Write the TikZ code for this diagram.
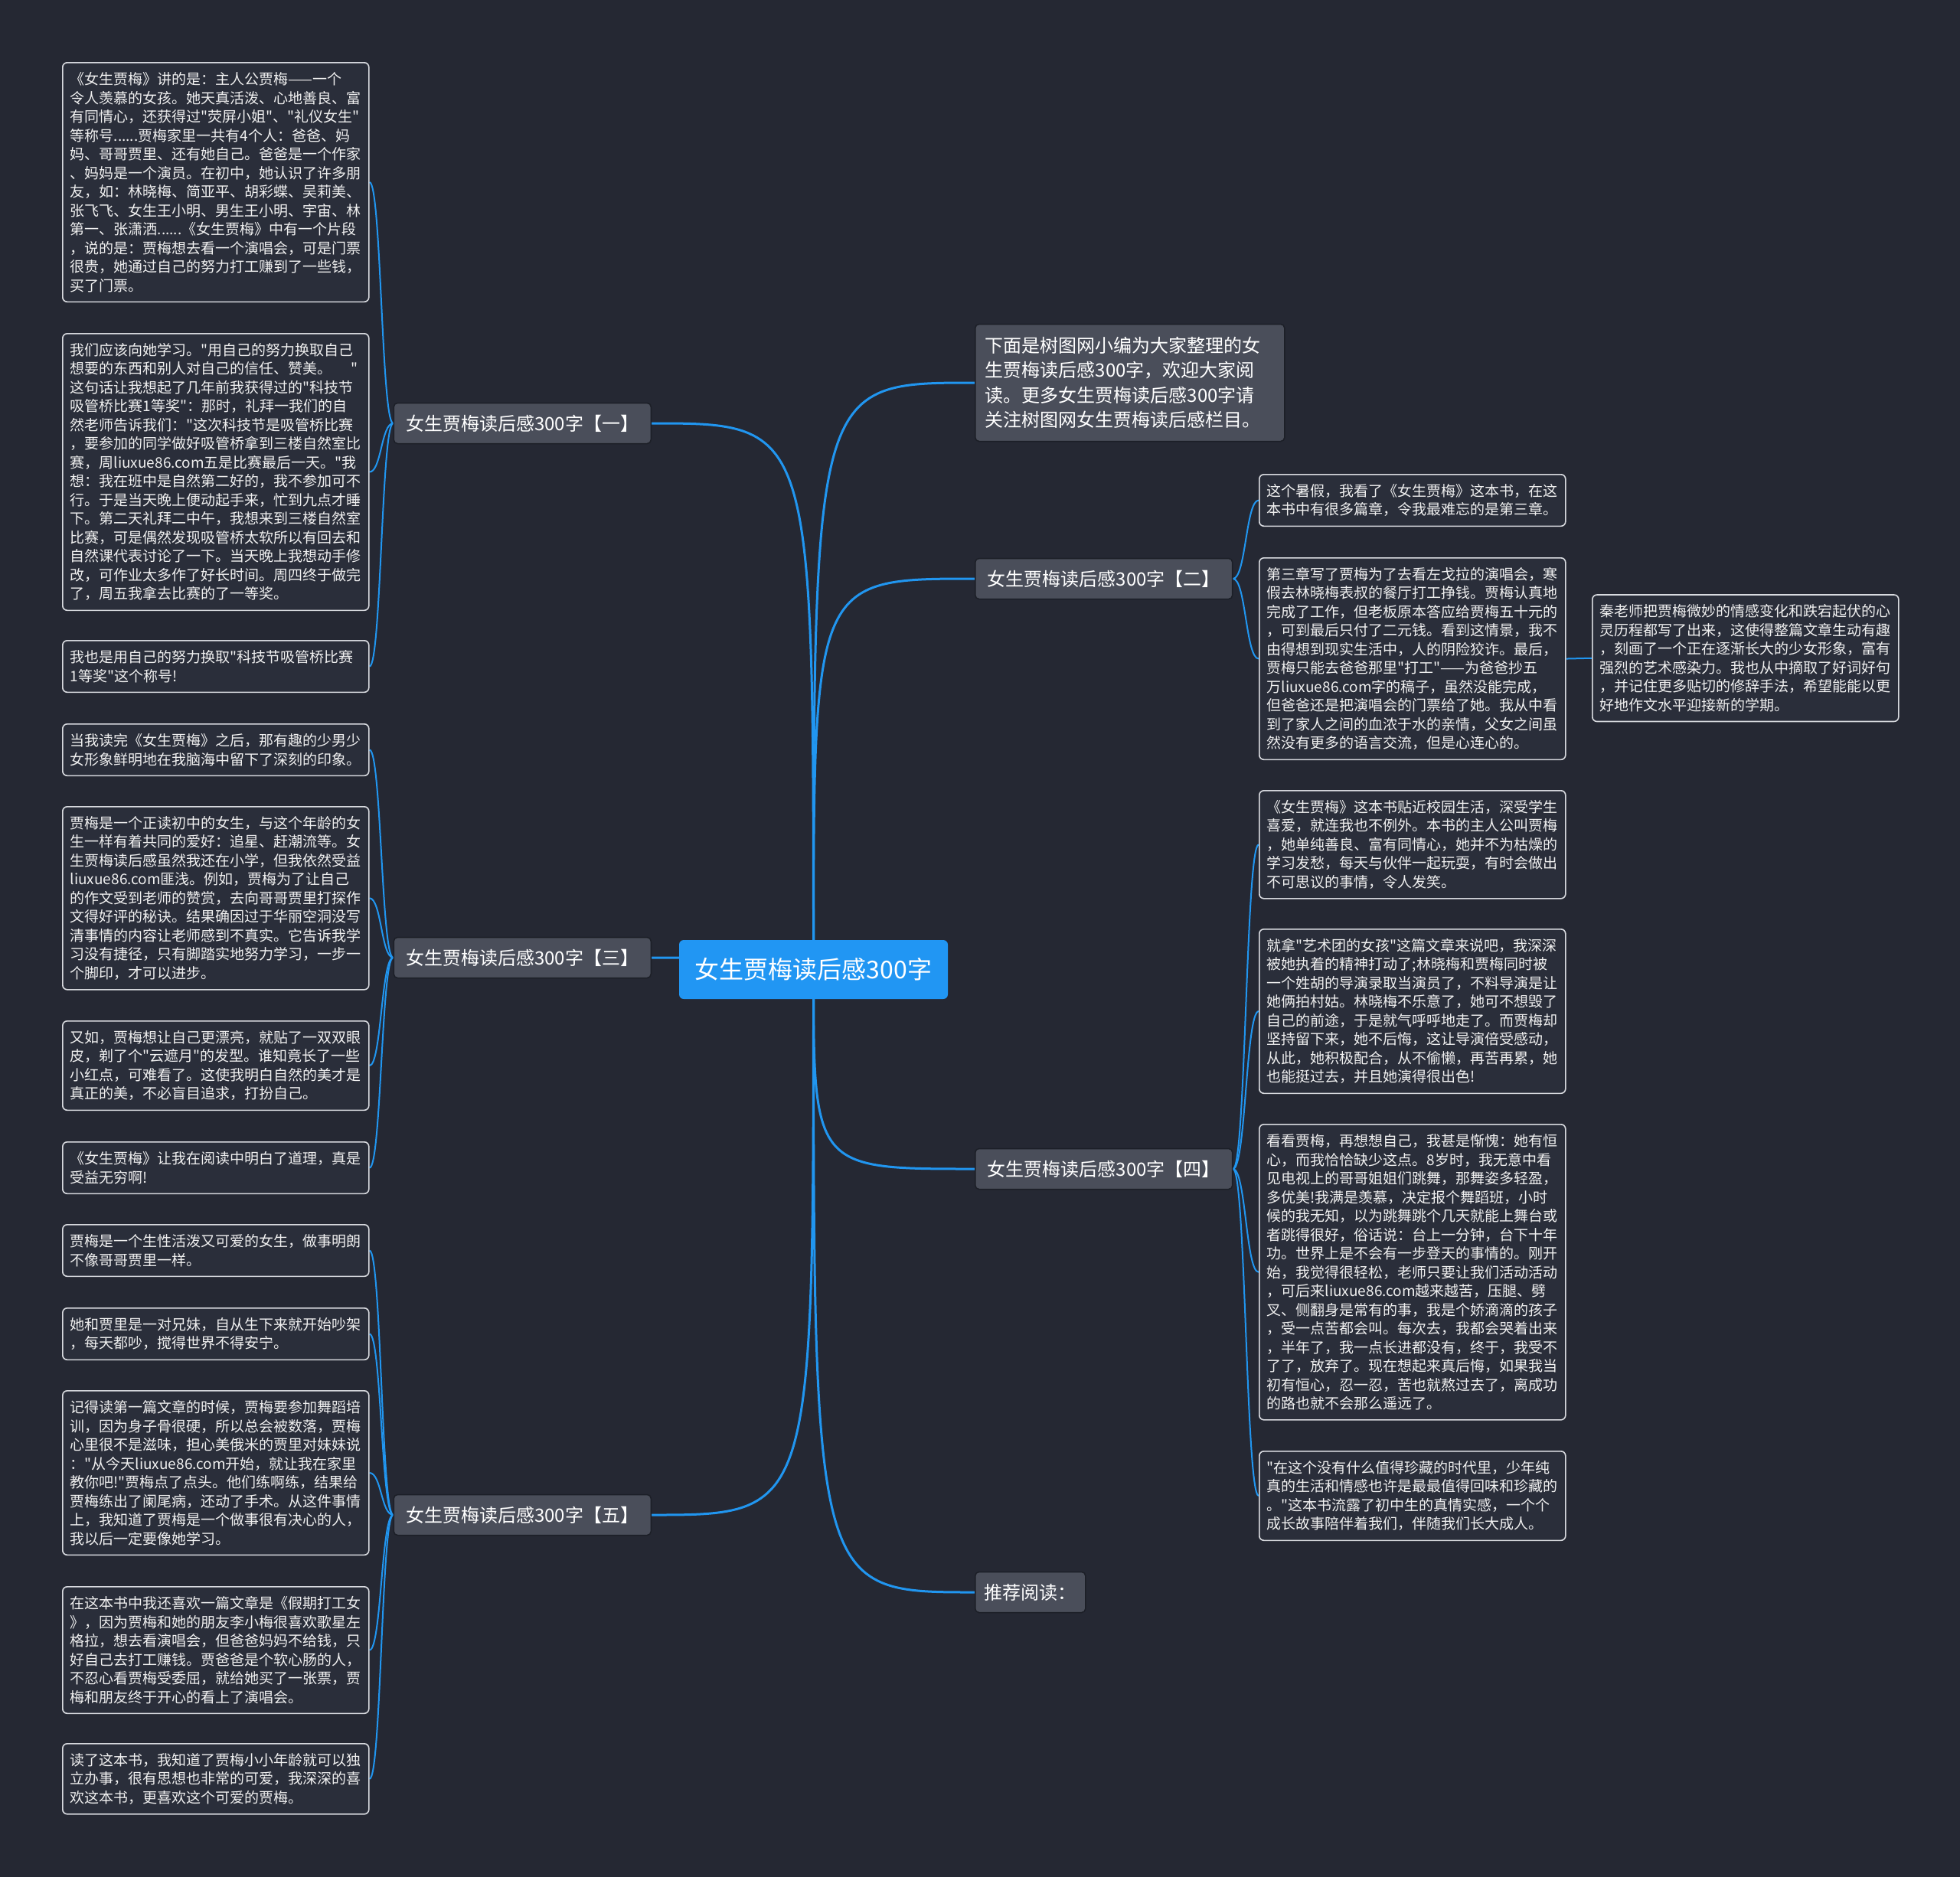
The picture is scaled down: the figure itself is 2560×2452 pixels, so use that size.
\documentclass[tikz,border=0pt]{standalone}
\usepackage{fontspec}
\setmainfont{Noto Sans CJK SC}[Ligatures=TeXOff]
\usetikzlibrary{backgrounds,calc}
\definecolor{bgc}{HTML}{252833}
\definecolor{leaffill}{HTML}{2A2E3A}
\definecolor{leafline}{HTML}{D8DADF}
\definecolor{leaftext}{HTML}{F0F0F0}
\definecolor{topicfill}{HTML}{4A4E5A}
\definecolor{topicline}{HTML}{1C1F27}
\definecolor{ctrfill}{HTML}{2196F3}
\definecolor{linkc}{HTML}{2196F0}
\newcommand\twigline[2]{\draw[twig] let \p1=(#1), \p2=(#2) in (\p1) .. controls ({(\x1+\x2)/2},\y1) and ({(\x1+\x2)/2},\y2) .. (\p2);}
\newcommand\branchline[2]{\draw[branch] (#1) .. controls (#1 |- #2) and (#1 |- #2) .. (#2);}
\begin{document}
\begin{tikzpicture}[x=1pt,y=-1pt,
  leaf/.style={draw=leafline, fill=leaffill, rounded corners=6pt, line width=1.6pt,
    text=leaftext, font=\fontsize{19}{24.5}\selectfont, text width=380pt, align=left,
    inner xsep=10pt, inner ysep=0pt, minimum height={(#1-1)*24.5pt+43pt}, anchor=north west},
  topic/.style={draw=topicline, fill=topicfill, rounded corners=5pt, line width=1.5pt,
    text=white, font=\fontsize{24}{28}\selectfont, inner xsep=16pt, inner ysep=0pt, minimum height=53pt},
  branch/.style={draw=linkc, line width=3pt},
  twig/.style={draw=linkc, line width=2pt}]
\begin{pgfonlayer}{background}
\fill[bgc] (0,0) rectangle (2560,2452);
\end{pgfonlayer}
\useasboundingbox (0,0) rectangle (2560,2452);

% center
\node[fill=ctrfill, rounded corners=6pt, text=white, font=\fontsize{32}{36}\selectfont,
  minimum width=351pt, minimum height=77pt, inner sep=0pt] (ctr) at (1062.5,1266.5) {女生贾梅读后感300字};

% right topics
\node[topic, anchor=west, minimum height=153pt, text width=378pt, align=left, inner xsep=13pt,
  font=\fontsize{24}{32.5}\selectfont] (intro) at (1273,500)
  {下面是树图网小编为大家整理的女\\生贾梅读后感300字，欢迎大家阅\\读。更多女生贾梅读后感300字请\\关注树图网女生贾梅读后感栏目。};
\node[topic, anchor=west] (t2) at (1273,756) {女生贾梅读后感300字【二】};
\node[topic, anchor=west] (t4) at (1273,1527) {女生贾梅读后感300字【四】};
\node[topic, anchor=west, inner xsep=12pt] (tr) at (1273,2080) {推荐阅读：};

% left topics
\node[topic, anchor=east] (t1) at (851,553) {女生贾梅读后感300字【一】};
\node[topic, anchor=east] (t3) at (851,1251) {女生贾梅读后感300字【三】};
\node[topic, anchor=east] (t5) at (851,1979) {女生贾梅读后感300字【五】};

% left leaves
\node[leaf=12] (l1) at (81,81) {《女生贾梅》讲的是：主人公贾梅——一个\\令人羡慕的女孩。她天真活泼、心地善良、富\\有同情心，还获得过"荧屏小姐"、"礼仪女生"\\等称号......贾梅家里一共有4个人：爸爸、妈\\妈、哥哥贾里、还有她自己。爸爸是一个作家\\、妈妈是一个演员。在初中，她认识了许多朋\\友，如：林晓梅、简亚平、胡彩蝶、吴莉美、\\张飞飞、女生王小明、男生王小明、宇宙、林\\第一、张潇洒......《女生贾梅》中有一个片段\\，说的是：贾梅想去看一个演唱会，可是门票\\很贵，她通过自己的努力打工赚到了一些钱，\\买了门票。};
\node[leaf=14] (l2) at (81,435) {我们应该向她学习。"用自己的努力换取自己\\想要的东西和别人对自己的信任、赞美。\hspace{1.3em}"\\这句话让我想起了几年前我获得过的"科技节\\吸管桥比赛1等奖"：那时，礼拜一我们的自\\然老师告诉我们："这次科技节是吸管桥比赛\\，要参加的同学做好吸管桥拿到三楼自然室比\\赛，周liuxue86.com五是比赛最后一天。"我\\想：我在班中是自然第二好的，我不参加可不\\行。于是当天晚上便动起手来，忙到九点才睡\\下。第二天礼拜二中午，我想来到三楼自然室\\比赛，可是偶然发现吸管桥太软所以有回去和\\自然课代表讨论了一下。当天晚上我想动手修\\改，可作业太多作了好长时间。周四终于做完\\了，周五我拿去比赛的了一等奖。};
\node[leaf=2] (l3) at (81,836) {我也是用自己的努力换取"科技节吸管桥比赛\\1等奖"这个称号!};
\node[leaf=2] (l4) at (81,945) {当我读完《女生贾梅》之后，那有趣的少男少\\女形象鲜明地在我脑海中留下了深刻的印象。};
\node[leaf=9] (l5) at (81,1053) {贾梅是一个正读初中的女生，与这个年龄的女\\生一样有着共同的爱好：追星、赶潮流等。女\\生贾梅读后感虽然我还在小学，但我依然受益\\liuxue86.com匪浅。例如，贾梅为了让自己\\的作文受到老师的赞赏，去向哥哥贾里打探作\\文得好评的秘诀。结果确因过于华丽空洞没写\\清事情的内容让老师感到不真实。它告诉我学\\习没有捷径，只有脚踏实地努力学习，一步一\\个脚印，才可以进步。};
\node[leaf=4] (l6) at (81,1333) {又如，贾梅想让自己更漂亮，就贴了一双双眼\\皮，剃了个"云遮月"的发型。谁知竟长了一些\\小红点，可难看了。这使我明白自然的美才是\\真正的美，不必盲目追求，打扮自己。};
\node[leaf=2] (l7) at (81,1491) {《女生贾梅》让我在阅读中明白了道理，真是\\受益无穷啊!};
\node[leaf=2] (l8) at (81,1599) {贾梅是一个生性活泼又可爱的女生，做事明朗\\不像哥哥贾里一样。};
\node[leaf=2] (l9) at (81,1708) {她和贾里是一对兄妹，自从生下来就开始吵架\\，每天都吵，搅得世界不得安宁。};
\node[leaf=8] (l10) at (81,1816) {记得读第一篇文章的时候，贾梅要参加舞蹈培\\训，因为身子骨很硬，所以总会被数落，贾梅\\心里很不是滋味，担心美俄米的贾里对妹妹说\\："从今天liuxue86.com开始，就让我在家里\\教你吧!"贾梅点了点头。他们练啊练，结果给\\贾梅练出了阑尾病，还动了手术。从这件事情\\上，我知道了贾梅是一个做事很有决心的人，\\我以后一定要像她学习。};
\node[leaf=6] (l11) at (81,2072) {在这本书中我还喜欢一篇文章是《假期打工女\\》，因为贾梅和她的朋友李小梅很喜欢歌星左\\格拉，想去看演唱会，但爸爸妈妈不给钱，只\\好自己去打工赚钱。贾爸爸是个软心肠的人，\\不忍心看贾梅受委屈，就给她买了一张票，贾\\梅和朋友终于开心的看上了演唱会。};
\node[leaf=3] (l12) at (81,2277) {读了这本书，我知道了贾梅小小年龄就可以独\\立办事，很有思想也非常的可爱，我深深的喜\\欢这本书，更喜欢这个可爱的贾梅。};

% right leaves
\node[leaf=2] (r1) at (1644,619) {这个暑假，我看了《女生贾梅》这本书，在这\\本书中有很多篇章，令我最难忘的是第三章。};
\node[leaf=10] (r2) at (1644,728) {第三章写了贾梅为了去看左戈拉的演唱会，寒\\假去林晓梅表叔的餐厅打工挣钱。贾梅认真地\\完成了工作，但老板原本答应给贾梅五十元的\\，可到最后只付了二元钱。看到这情景，我不\\由得想到现实生活中，人的阴险狡诈。最后，\\贾梅只能去爸爸那里"打工"——为爸爸抄五\\万liuxue86.com字的稿子，虽然没能完成，\\但爸爸还是把演唱会的门票给了她。我从中看\\到了家人之间的血浓于水的亲情，父女之间虽\\然没有更多的语言交流，但是心连心的。};
\node[leaf=6, anchor=west] (r3) at (2079,859.75) {秦老师把贾梅微妙的情感变化和跌宕起伏的心\\灵历程都写了出来，这使得整篇文章生动有趣\\，刻画了一个正在逐渐长大的少女形象，富有\\强烈的艺术感染力。我也从中摘取了好词好句\\，并记住更多贴切的修辞手法，希望能能以更\\好地作文水平迎接新的学期。};
\node[leaf=5] (r4) at (1644,1032) {《女生贾梅》这本书贴近校园生活，深受学生\\喜爱，就连我也不例外。本书的主人公叫贾梅\\，她单纯善良、富有同情心，她并不为枯燥的\\学习发愁，每天与伙伴一起玩耍，有时会做出\\不可思议的事情，令人发笑。};
\node[leaf=8] (r5) at (1644,1213) {就拿"艺术团的女孩"这篇文章来说吧，我深深\\被她执着的精神打动了;林晓梅和贾梅同时被\\一个姓胡的导演录取当演员了，不料导演是让\\她俩拍村姑。林晓梅不乐意了，她可不想毁了\\自己的前途，于是就气呼呼地走了。而贾梅却\\坚持留下来，她不后悔，这让导演倍受感动，\\从此，她积极配合，从不偷懒，再苦再累，她\\也能挺过去，并且她演得很出色!};
\node[leaf=15] (r6) at (1644,1468) {看看贾梅，再想想自己，我甚是惭愧：她有恒\\心，而我恰恰缺少这点。8岁时，我无意中看\\见电视上的哥哥姐姐们跳舞，那舞姿多轻盈，\\多优美!我满是羡慕，决定报个舞蹈班，小时\\候的我无知，以为跳舞跳个几天就能上舞台或\\者跳得很好，俗话说：台上一分钟，台下十年\\功。世界上是不会有一步登天的事情的。刚开\\始，我觉得很轻松，老师只要让我们活动活动\\，可后来liuxue86.com越来越苦，压腿、劈\\叉、侧翻身是常有的事，我是个娇滴滴的孩子\\，受一点苦都会叫。每次去，我都会哭着出来\\，半年了，我一点长进都没有，终于，我受不\\了了，放弃了。现在想起来真后悔，如果我当\\初有恒心，忍一忍，苦也就熬过去了，离成功\\的路也就不会那么遥远了。};
\node[leaf=4] (r7) at (1644,1895) {"在这个没有什么值得珍藏的时代里，少年纯\\真的生活和情感也许是最最值得回味和珍藏的\\。"这本书流露了初中生的真情实感，一个个\\成长故事陪伴着我们，伴随我们长大成人。};

% connectors
\begin{pgfonlayer}{background}
\branchline{ctr.center}{intro.west}
\branchline{ctr.center}{t2.west}
\branchline{ctr.center}{t4.west}
\branchline{ctr.center}{tr.west}
\branchline{ctr.center}{t1.east}
\branchline{ctr.center}{t3.east}
\branchline{ctr.center}{t5.east}
\twigline{t1.west}{l1.east}
\twigline{t1.west}{l2.east}
\twigline{t1.west}{l3.east}
\twigline{t3.west}{l4.east}
\twigline{t3.west}{l5.east}
\twigline{t3.west}{l6.east}
\twigline{t3.west}{l7.east}
\twigline{t5.west}{l8.east}
\twigline{t5.west}{l9.east}
\twigline{t5.west}{l10.east}
\twigline{t5.west}{l11.east}
\twigline{t5.west}{l12.east}
\twigline{t2.east}{r1.west}
\twigline{t2.east}{r2.west}
\twigline{t4.east}{r4.west}
\twigline{t4.east}{r5.west}
\twigline{t4.east}{r6.west}
\twigline{t4.east}{r7.west}
\draw[twig] (r2.east) -- (r3.west);
\end{pgfonlayer}
\end{tikzpicture}
\end{document}
